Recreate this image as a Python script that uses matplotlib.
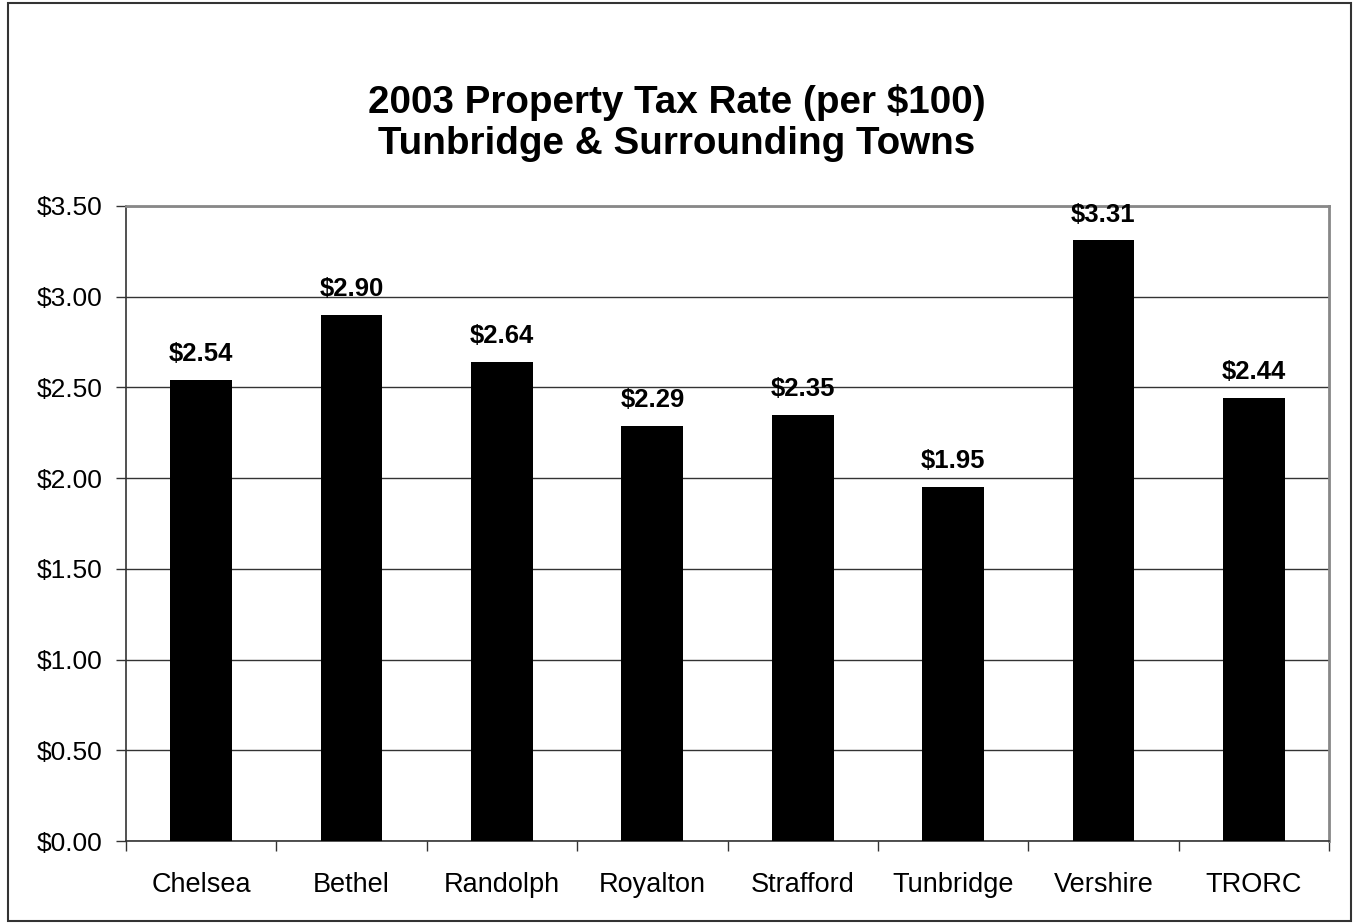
import matplotlib
matplotlib.use("Agg")
import matplotlib.pyplot as plt
from matplotlib.patches import Rectangle
from matplotlib.ticker import FixedLocator, FuncFormatter

towns = ["Chelsea", "Bethel", "Randolph", "Royalton", "Strafford",
         "Tunbridge", "Vershire", "TRORC"]
rates = [2.54, 2.90, 2.64, 2.29, 2.35, 1.95, 3.31, 2.44]
y_ticks = [0.0, 0.5, 1.0, 1.5, 2.0, 2.5, 3.0, 3.5]

plt.rcParams["font.family"] = ["Liberation Sans", "DejaVu Sans"]

fig = plt.figure(figsize=(13.54, 9.24), dpi=100)
fig.patches.append(Rectangle((0.006, 0.003), 0.992, 0.994, transform=fig.transFigure,
                             fill=False, edgecolor="#333333", linewidth=1.5))

ax = fig.add_axes([0.0931, 0.0898, 0.8884, 0.6873])
x = list(range(len(towns)))
ax.bar(x, rates, width=0.41, color="black", zorder=3)

ax.set_xlim(-0.5, len(towns) - 0.5)
ax.set_ylim(0, 3.5)
ax.yaxis.set_major_locator(FixedLocator(y_ticks))
ax.yaxis.set_major_formatter(FuncFormatter(lambda v, p: f"${v:.2f}"))
ax.grid(axis="y", color="#333333", linewidth=1.0, zorder=0)

ax.set_xticks(x)
ax.set_xticklabels(towns, fontsize=19.5)
ax.tick_params(axis="x", which="major", length=0, pad=22)
ax.set_xticks([i - 0.5 for i in range(len(towns) + 1)], minor=True)
ax.tick_params(axis="x", which="minor", length=7, width=1, color="#333333", direction="out")
ax.tick_params(axis="y", length=7, width=1, color="#333333", direction="out",
               labelsize=19, pad=10)

for side in ["top", "right"]:
    ax.spines[side].set_color("#888888")
    ax.spines[side].set_linewidth(2)
for side in ["left", "bottom"]:
    ax.spines[side].set_color("#333333")
    ax.spines[side].set_linewidth(1.2)

for xi, r in zip(x, rates):
    ax.annotate(f"${r:.2f}", (xi, r), xytext=(0, 10), textcoords="offset points",
                ha="center", va="bottom", fontsize=18.5, fontweight="bold")

fig.text(0.5, 0.867, "2003 Property Tax Rate (per $100)\nTunbridge & Surrounding Towns",
         ha="center", va="center", fontsize=27.8, fontweight="bold", linespacing=1.2)

fig.savefig("out.png", dpi=100)
